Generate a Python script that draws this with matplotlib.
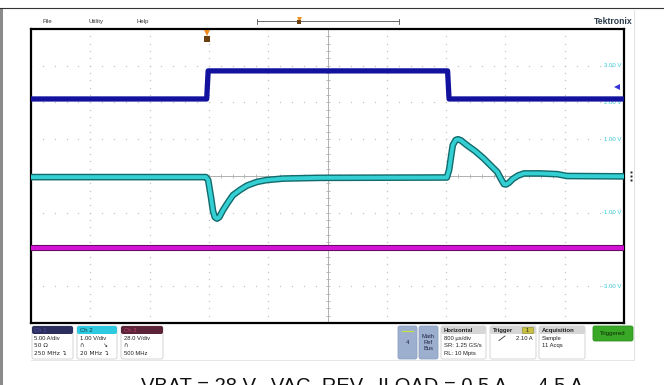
import numpy as np
import matplotlib
matplotlib.use('Agg')
import matplotlib.pyplot as plt
from matplotlib.patches import Polygon, FancyBboxPatch, Rectangle

# scope settings
time_div = 0.8      # ms/div (800 us/div)
ch1_scale = 5.0     # A/div
ch2_scale = 1.0     # V/div
ch3_scale = 28.0    # V/div
ch1_offset = 2.0    # div
ch2_offset = 0.0
ch3_offset = -3.0
trig_level = 2.10   # A

# C1 IAC (A)
iac_t = [-4.0, -1.63, -1.61, 1.62, 1.64, 4.0]
iac_a = [0.48, 0.48, 4.3, 4.3, 0.48, 0.48]

# C2 VAC_REV (V)
vac_t = [-4.0, -1.64, -1.61, -1.57, -1.545, -1.52, -1.49, -1.46, -1.41, -1.34,
         -1.275, -1.18, -1.085, -0.95, -0.82, -0.60, -0.10, 1.61, 1.64, 1.67,
         1.69, 1.73, 1.76, 1.80, 1.88, 1.99, 2.10, 2.19, 2.29, 2.34,
         2.38, 2.41, 2.45, 2.50, 2.57, 2.65, 2.87, 3.10, 3.23, 4.0]
vac_v = [-0.03, -0.03, -0.11, -0.60, -0.95, -1.12, -1.16, -1.12, -0.93, -0.71,
         -0.52, -0.38, -0.26, -0.16, -0.11, -0.07, -0.05, -0.04, 0.16, 0.57,
         0.84, 0.98, 1.00, 0.97, 0.84, 0.68, 0.49, 0.31, 0.11, -0.08,
         -0.22, -0.23, -0.18, -0.08, 0.01, 0.07, 0.07, 0.05, 0.0, -0.01]

# C3 VOUT (V)
vout_t = [-4.0, 4.0]
vout_v = [29.5, 29.5]

ch2_labels = [3, 2, 1, 0, -1, -2, -3]
caption = "VBAT = 28 V,  VAC_REV,  ILOAD = 0.5 A \u2192 4.5 A"

UI = ['Liberation Sans', 'DejaVu Sans']

fig = plt.figure(figsize=(6.64, 3.85), dpi=100)
fig.patch.set_facecolor('white')

# pixel-space layer for the instrument frame
ui = fig.add_axes([0, 0, 1, 1])
ui.set_xlim(0, 664)
ui.set_ylim(385, 0)
ui.axis('off')

# scope graticule area
ax = fig.add_axes([31 / 664, (385 - 323) / 385, 593 / 664, 294 / 385])
ax.set_xlim(-5 * time_div, 5 * time_div)
ax.set_ylim(-4, 4)
ax.set_xticks([])
ax.set_yticks([])
for s in ax.spines.values():
    s.set_linewidth(1.6)
    s.set_color('black')
ax.set_zorder(2)

# dotted grid
gcol = '#c4c4c4'
minor = np.arange(-5, 5.01, 0.2) * time_div
for k in range(-4, 5):
    if k != 0:
        ax.plot(minor, np.full_like(minor, k), ls='none', marker='s', ms=0.9,
                color=gcol, mew=0)
vminor = np.arange(-4, 4.01, 0.2)
for k in range(-5, 6):
    if k != 0:
        ax.plot(np.full_like(vminor, k * time_div), vminor, ls='none', marker='s',
                ms=0.9, color=gcol, mew=0)
ax.axhline(0, color='#b0b0b0', lw=0.7, zorder=1)
ax.axvline(0, color='#b0b0b0', lw=0.7, zorder=1)
ax.plot(minor, np.zeros_like(minor), ls='none', marker='|', ms=3, color='#b0b0b0', mew=0.6)
ax.plot(np.zeros_like(vminor), vminor, ls='none', marker='_', ms=3, color='#b0b0b0', mew=0.6)

# ch2 scale labels at right
for v in ch2_labels:
    ax.text(3.97, ch2_offset + v / ch2_scale, f"{v:.2f} V", ha='right', va='center',
            fontsize=4.3, color='#30c8d8', family=UI, zorder=1)

# traces
c1y = [ch1_offset + a / ch1_scale for a in iac_a]
ax.plot(iac_t, c1y, color='#12129e', lw=3.8, solid_capstyle='butt', zorder=5)
c2y = [ch2_offset + v / ch2_scale for v in vac_v]
ax.plot(vac_t, c2y, color='#126a6c', lw=4.8, zorder=4, solid_joinstyle='round')
ax.plot(vac_t, c2y, color='#33cfd2', lw=2.8, zorder=4, solid_joinstyle='round')
c3y = [ch3_offset + v / ch3_scale for v in vout_v]
ax.plot(vout_t, c3y, color='#5c0a5c', lw=4.4, zorder=4)
ax.plot(vout_t, c3y, color='#d313d3', lw=3.0, zorder=4)

# trigger level arrow (ch1)
ty = ch1_offset + trig_level / ch1_scale
ax.plot([3.9], [ty], marker='<', ms=5, color='#3535d8', mew=0, zorder=6)

# trigger position marker at top
tx = iac_t[1]
ax.plot([tx], [3.88], marker='v', ms=5, color='#f08a1c', mew=0, zorder=6, clip_on=False)
ax.plot([tx], [3.72], marker='s', ms=4, color='#6a4010', mew=0, zorder=6, clip_on=False)

# top-right corner triangle
ui.add_patch(Polygon([(608, 32), (623, 32), (623, 47)], closed=True,
                     fc='#96a6c6', ec='none', zorder=3))

# channel tags
def tag(y, label, name, col, filled):
    pts = [(32, y - 4.5), (43, y - 4.5), (47, y), (43, y + 4.5), (32, y + 4.5)]
    ui.add_patch(Polygon(pts, closed=True, fc=col if filled else 'white',
                         ec=col, lw=0.6, zorder=5))
    ui.text(38.5, y + 0.3, label, ha='center', va='center', fontsize=4.3,
            color='white' if filled else col, family=UI, zorder=6)
    ui.text(53, y + 0.3, name, ha='left', va='center', fontsize=4.6,
            color=col, family=UI, zorder=6)

tag(102, 'C1', 'IAC', '#3a3ad0', False)
tag(176, 'C2', 'VAC_REV', '#2cc6d4', True)
tag(287, 'C3', 'VOUT', '#e0508e', False)

# frame lines
ui.plot([0, 664], [8, 8], color='#333333', lw=0.8)
ui.add_patch(Rectangle((0, 8), 2.5, 377, fc='#8a8a8a', ec='none'))
ui.plot([634, 634], [10, 360], color='#dddddd', lw=0.6)
ui.plot([31, 634], [359.5, 359.5], color='#e2e2e2', lw=0.6)

# menu bar
for x, s in [(47, 'File'), (96, 'Utility'), (143, 'Help')]:
    ui.text(x, 21.5, s, ha='center', va='center', fontsize=4.3, color='#333333', family=UI)
ui.plot([257, 399], [21, 21], color='#555555', lw=0.6)
ui.plot([257, 257], [18.5, 23.5], color='#555555', lw=0.6)
ui.plot([399, 399], [18.5, 23.5], color='#555555', lw=0.6)
ui.plot([299], [19], marker='v', ms=3.5, color='#f08a1c', mew=0)
ui.plot([299], [22], marker='s', ms=3, color='#6a4010', mew=0)
ui.text(633, 22, 'Tektronix', ha='right', va='center', fontsize=6.2,
        fontweight='bold', color='#2a3a4a', family=UI)

# bottom readout boxes
def box(x0, x1, y0=326, y1=359, fc='white', ec='#cfcfcf'):
    ui.add_patch(FancyBboxPatch((x0, y0), x1 - x0, y1 - y0,
                                boxstyle='round,pad=0,rounding_size=2',
                                fc=fc, ec=ec, lw=0.6, zorder=3))

def header(x0, x1, col, text, tcol, bold=False):
    ui.add_patch(FancyBboxPatch((x0, 326), x1 - x0, 8,
                                boxstyle='round,pad=0,rounding_size=2',
                                fc=col, ec='none', zorder=4))
    ui.text(x0 + 2.5, 330.3, text, ha='left', va='center', fontsize=4.3,
            color=tcol, family=UI, zorder=5, fontweight='bold' if bold else 'normal')

def lines(x0, rows, col='#222222'):
    for i, s in enumerate(rows):
        ui.text(x0 + 2.5, 338.5 + i * 7.3, s, ha='left', va='center', fontsize=4.2,
                color=col, family=['DejaVu Sans'] if any(ord(c) > 255 for c in s) else UI,
                zorder=5)

box(32, 73)
header(32, 73, '#2c2e5e', 'Ch 1', '#5050a8')
lines(32, ['5.00 A/div', '50 \u03a9', '250 MHz \u21b4'])

box(77, 117)
header(77, 117, '#2ecbe0', 'Ch 2', '#1a3a48')
lines(77, ['1.00 V/div', '\u2229          \u2198', '20 MHz \u21b4'])

box(121, 163)
header(121, 163, '#5b2238', 'Ch 3', '#c0406e')
lines(121, ['28.0 V/div', '\u2229', '500 MHz'])

box(398, 417, fc='#9cafcf', ec='#8fa2c2')
ui.plot([402, 413], [331, 331], color='#c8e040', lw=0.9, zorder=5)
ui.text(407.5, 342, '4', ha='center', va='center', fontsize=4.3, color='#222244',
        family=UI, zorder=5)
box(419, 438, fc='#9cafcf', ec='#8fa2c2')
ui.text(428.5, 342, 'Math\nRef\nBus', ha='center', va='center', fontsize=4.2,
        color='#222244', family=UI, zorder=5, linespacing=1.25)

box(441, 486)
header(441, 486, '#d6d6d6', 'Horizontal', '#222222', bold=True)
lines(441, ['800 \u00b5s/div', 'SR: 1.25 GS/s', 'RL: 10 Mpts'])

box(490, 536)
header(490, 536, '#d6d6d6', 'Trigger', '#222222', bold=True)
ui.add_patch(Rectangle((522, 327.3), 11, 5.6, fc='#c8c040', ec='#8a8420', lw=0.4, zorder=5))
ui.text(527.5, 330.2, '1', ha='center', va='center', fontsize=4, color='#222222',
        family=UI, zorder=6)
ui.plot([499, 505], [340.5, 336], color='#333333', lw=0.6, zorder=5)
ui.text(533, 338.3, '2.10 A', ha='right', va='center', fontsize=4.2, color='#222222',
        family=UI, zorder=5)

box(539, 585)
header(539, 585, '#d6d6d6', 'Acquisition', '#222222', bold=True)
lines(539, ['Sample', '11 Acqs'])

box(593, 633, 326, 341, fc='#38a826', ec='#2e8f20')
ui.text(613, 333.5, 'Triggered', ha='center', va='center', fontsize=4.3,
        color='#102a08', family=UI, zorder=5)

# dots menu at right edge
ui.plot([631, 631, 631], [172, 176, 180], ls='none', marker='s', ms=1.4,
        color='#222222', mew=0)

# caption under the screenshot (cut off by the bottom edge, as in the source image)
ui.text(362, 376.5, caption, ha='center', va='top', fontsize=14.5,
        color='#111111', family=UI)

fig.savefig('out.png', dpi=100)
